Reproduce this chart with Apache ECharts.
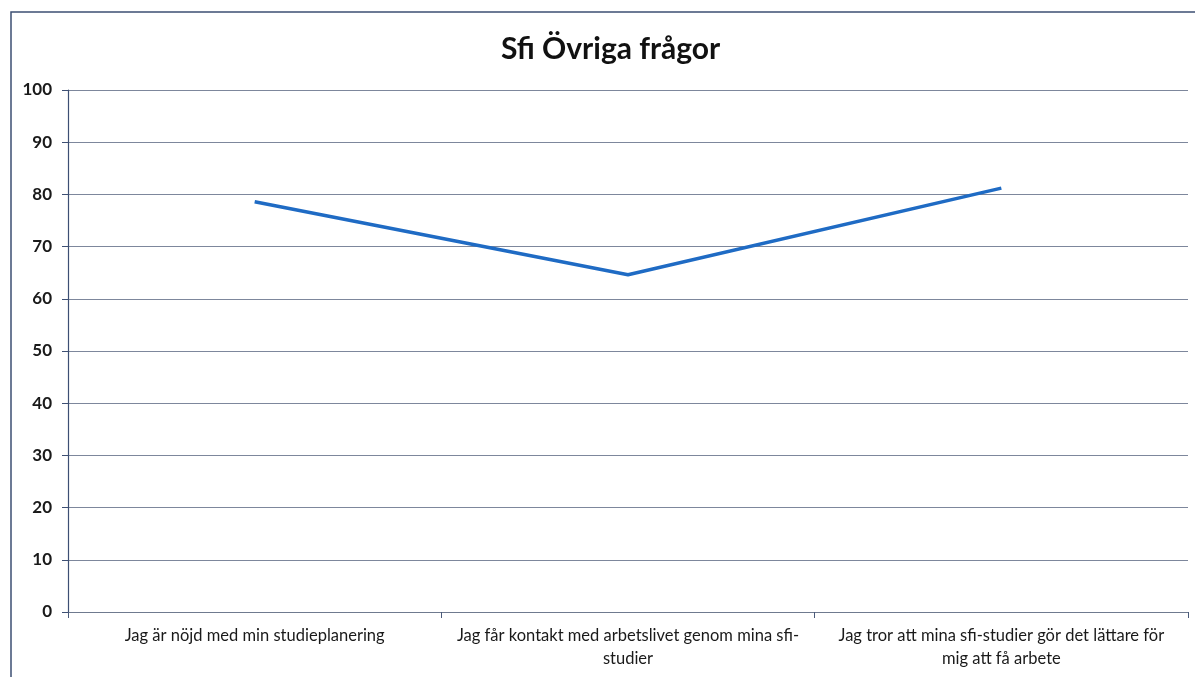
<!DOCTYPE html>
<html>
<head>
<meta charset="utf-8">
<script src="https://cdn.jsdelivr.net/npm/echarts@6/dist/echarts.min.js"></script>
<style>
html,body{margin:0;padding:0;background:#fff;}
#chart{width:1195px;height:677px;}
</style>
</head>
<body>
<div id="chart"></div>
<script>
const title = 'Sfi Övriga frågor';
const categories = [
  'Jag är nöjd med min studieplanering',
  'Jag får kontakt med arbetslivet genom mina sfi-\nstudier',
  'Jag tror att mina sfi-studier gör det lättare för\nmig att få arbete'
];
const values = [78.6, 64.6, 81.2];
const yMin = 0, yMax = 100, yStep = 10;

const chart = echarts.init(document.getElementById('chart'), null, {renderer: 'canvas'});
chart.setOption({
  animation: false,
  backgroundColor: '#ffffff',
  title: {
    text: title,
    left: 496,
    top: 29,
    textStyle: {fontFamily: 'Lato', fontWeight: 'bold', fontSize: 30, color: '#111'}
  },
  graphic: [{
    type: 'rect',
    shape: {x: 11, y: 12, width: 1200, height: 700},
    style: {fill: 'none', stroke: '#3d4f73', lineWidth: 1.5},
    silent: true
  }],
  grid: {left: 68, right: 7, top: 90, bottom: 65, containLabel: false},
  xAxis: {
    type: 'category',
    data: categories,
    boundaryGap: true,
    axisLine: {show: true, lineStyle: {color: '#6f7a8f', width: 1}},
    axisTick: {show: true, length: 6, alignWithLabel: false, lineStyle: {color: '#4a5a7a'}},
    axisLabel: {
      interval: 0,
      margin: 12,
      fontFamily: 'Lato',
      fontSize: 16.5,
      lineHeight: 23,
      color: '#1a1a1a',
      align: 'center'
    },
    splitLine: {show: false}
  },
  yAxis: {
    type: 'value',
    min: yMin,
    max: yMax,
    interval: yStep,
    axisLine: {show: true, lineStyle: {color: '#3d4f73', width: 1.2}},
    axisTick: {show: true, length: 6, lineStyle: {color: '#3d4f73'}},
    axisLabel: {
      margin: 16,
      fontFamily: 'Lato',
      fontWeight: 'bold',
      fontSize: 17,
      color: '#1a1a1a'
    },
    splitLine: {show: true, lineStyle: {color: '#7d879c', width: 1}}
  },
  series: [{
    type: 'line',
    data: values,
    symbol: 'none',
    lineStyle: {color: '#1f6bc4', width: 3.5},
    itemStyle: {color: '#1f6bc4'}
  }]
});
</script>
</body>
</html>
